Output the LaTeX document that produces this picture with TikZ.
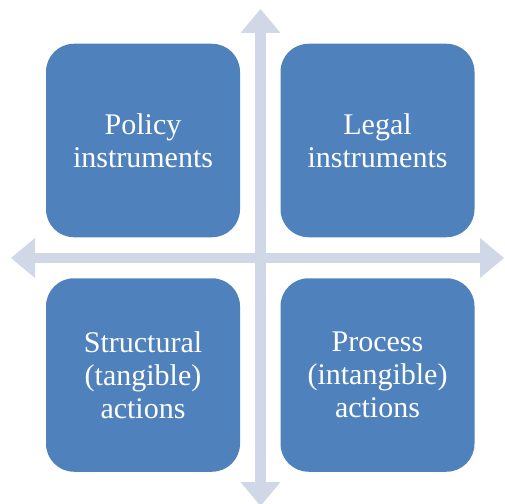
\documentclass[tikz,border=0pt]{standalone}
\usepackage{fontspec}
\setmainfont{Liberation Serif}
\usetikzlibrary{arrows.meta}
\definecolor{boxblue}{HTML}{4F81BD}
\definecolor{axisgray}{HTML}{D0D8E8}
\tikzset{
  qb/.style={fill=boxblue,draw=none,rounded corners=28pt,minimum width=194pt,minimum height=193.5pt,inner sep=0pt,align=center,text=white,font=\fontsize{30}{33}\selectfont},
  ax/.style={axisgray,line width=10.5pt,{Triangle[width=40pt,length=24pt,line width=0pt]}-{Triangle[width=40pt,length=24pt,line width=0pt]}}
}
\begin{document}
\begin{tikzpicture}[x=1pt,y=-1pt]
    \useasboundingbox (0,0) rectangle (505,503);
    \clip (0,0) rectangle (505,503);
    \coordinate (top) at (260.5,9);
    \coordinate (bottom) at (260.5,506);
    \coordinate (left) at (11,258);
    \coordinate (right) at (504,258);
    \draw[ax] (top) -- (bottom);
    \draw[ax] (left) -- (right);
    \node[qb] (policy) at (143,140.5) {Policy\\instruments};
    \node[qb] (legal) at (377.5,140.5) {Legal\\instruments};
    \node[qb] (struct) at (143,375) {Structural\\(tangible)\\actions};
    \node[qb] (process) at (377.5,375) {Process\\(intangible)\\actions};
  \end{tikzpicture}
\end{document}
